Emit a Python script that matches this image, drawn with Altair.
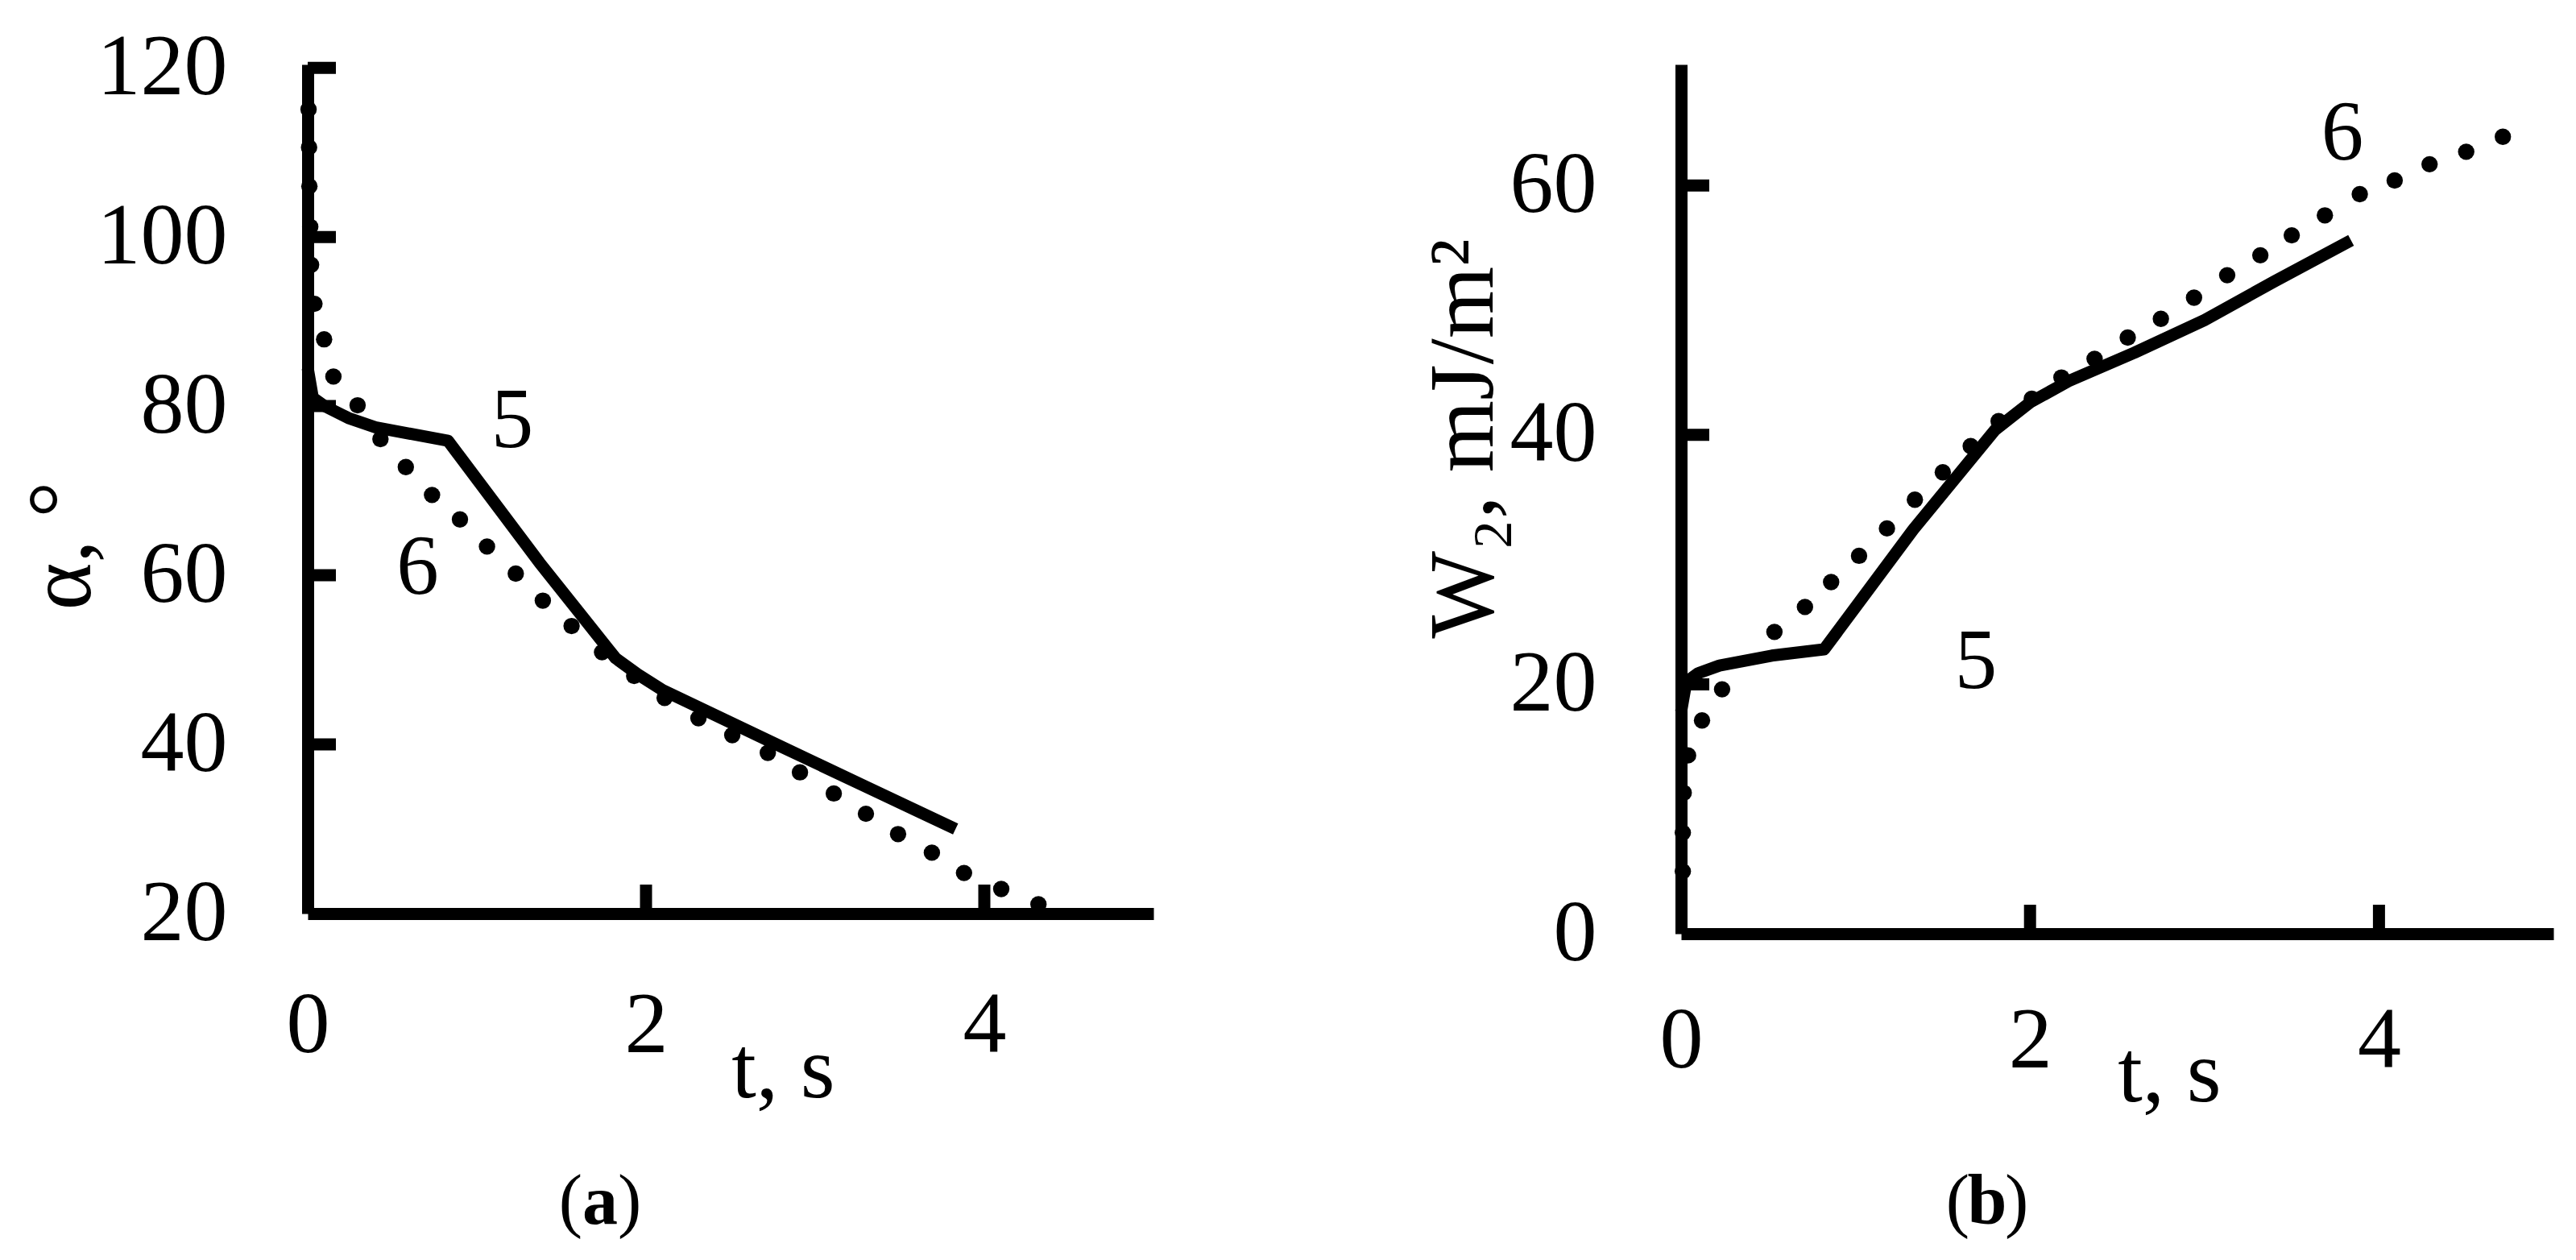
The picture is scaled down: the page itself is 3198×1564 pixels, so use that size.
import altair as alt
import pandas as pd

FONT = "Liberation Serif"

# ---------------- panel (a): alpha vs t ----------------
a5_t = [0.0, 0.03, 0.10, 0.24, 0.40, 0.83, 1.37, 1.82, 1.95, 2.10, 2.74, 3.30, 3.83]
a5_v = [84.5, 81.0, 80.0, 78.6, 77.5, 75.9, 61.5, 50.2, 48.3, 46.4, 40.3, 35.0, 30.0]

a6_t = [0.005, 0.008, 0.01, 0.015, 0.02, 0.04, 0.097, 0.152, 0.295, 0.43, 0.58, 0.735,
        0.90, 1.06, 1.23, 1.39, 1.56, 1.74, 1.93, 2.11, 2.31, 2.51, 2.72, 2.91, 3.11,
        3.30, 3.49, 3.69, 3.88, 4.10, 4.32]
a6_v = [115.1, 110.6, 106.0, 101.2, 96.7, 92.1, 87.9, 83.5, 80.1, 76.1, 72.8, 69.5,
        66.6, 63.4, 60.2, 57.0, 54.0, 50.9, 48.1, 45.5, 43.1, 41.1, 39.0, 36.7, 34.2,
        31.8, 29.4, 27.2, 24.8, 22.9, 21.1]

# ---------------- panel (b): W2 vs t ----------------
b5_t = [0.0, 0.03, 0.10, 0.22, 0.52, 0.82, 1.33, 1.80, 2.00, 2.22, 2.60, 3.00, 3.40, 3.84]
b5_v = [17.8, 20.2, 20.9, 21.5, 22.3, 22.8, 32.4, 40.4, 42.6, 44.3, 46.6, 49.2, 52.3, 55.6]

b6_t = [0.01, 0.01, 0.015, 0.04, 0.12, 0.235, 0.535, 0.71, 0.86, 1.02, 1.18, 1.34,
        1.50, 1.66, 1.82, 2.01, 2.18, 2.37, 2.56, 2.75, 2.94, 3.13, 3.32, 3.50, 3.69,
        3.89, 4.09, 4.29, 4.50, 4.71]
b6_v = [5.0, 8.1, 11.3, 14.3, 17.1, 19.6, 24.2, 26.2, 28.2, 30.3, 32.5, 34.8,
        37.0, 39.1, 41.1, 42.9, 44.6, 46.1, 47.8, 49.3, 51.0, 52.8, 54.4, 56.0, 57.6,
        59.3, 60.4, 61.7, 62.7, 63.9]

# ticks and labels
x_labels = [0, 2, 4]
x_ticks = [2, 4]
a_y_labels = [20, 40, 60, 80, 100, 120]
a_y_ticks = [40, 60, 80, 100, 120]
b_y_labels = [0, 20, 40, 60]
b_y_ticks = [20, 40, 60]

# curve annotations (label, t, value)
a_notes = [("5", 1.21, 75.2), ("6", 0.65, 57.8)]
b_notes = [("6", 3.79, 62.1), ("5", 1.69, 19.7)]


def panel(line_t, line_v, dot_t, dot_v, notes, y_labels, y_ticks, y_dom, W, H,
          y_title, ytsize, ytx, yty, xtx, xty, cap, capx, capy, ylabpad, xlabpad):
    xs = alt.Scale(domain=[0, 5], nice=False, zero=False)
    ys = alt.Scale(domain=y_dom, nice=False, zero=False)
    common = dict(domain=True, domainWidth=15, domainColor="black", ticks=False,
                  tickSize=0, grid=False, labelFont=FONT, labelFontSize=108,
                  labelColor="black", labelFlush=False, labelOverlap=False,
                  titleFont=FONT, titleFontWeight="normal",
                  titleColor="black", titleBaseline="alphabetic", titleAlign="center")
    xaxis = alt.Axis(title="t, s", values=x_labels, format="d", labelPadding=xlabpad,
                     titleX=xtx, titleY=xty, titleAngle=0, titleFontSize=110, **common)
    yaxis = alt.Axis(title=y_title, values=y_labels, format="d", labelPadding=ylabpad,
                     titleX=ytx, titleY=yty, titleAngle=270, titleFontSize=ytsize, **common)

    def X(f):
        return alt.X(f, type="quantitative", scale=xs, axis=xaxis)

    def Y(f):
        return alt.Y(f, type="quantitative", scale=ys, axis=yaxis)

    line = alt.Chart(pd.DataFrame({"t": line_t, "v": line_v})).mark_line(
        color="black", strokeWidth=15, strokeJoin="round"
    ).encode(x=X("t"), y=Y("v"))

    dots = alt.Chart(pd.DataFrame({"t": dot_t, "v": dot_v})).mark_circle(
        color="black", size=415, opacity=1
    ).encode(x=X("t"), y=Y("v"))

    ytk = alt.Chart(pd.DataFrame({"v": y_ticks})).mark_rule(
        color="black", strokeWidth=15
    ).encode(y=Y("v"), x=alt.value(0), x2=alt.value(35))

    xtk = alt.Chart(pd.DataFrame({"t": x_ticks})).mark_rule(
        color="black", strokeWidth=15
    ).encode(x=X("t"), y=alt.value(H), y2=alt.value(H - 36))

    txt = alt.Chart(pd.DataFrame(notes, columns=["label", "t", "v"])).mark_text(
        font=FONT, fontSize=105, color="black", baseline="alphabetic", align="center"
    ).encode(x=X("t"), y=Y("v"), text="label:N")

    cdf = pd.DataFrame({"c": [cap]})
    c1 = alt.Chart(cdf).mark_text(text="(", font=FONT, fontSize=88, color="black",
                                  baseline="alphabetic", align="right").encode(
        x=alt.value(capx - 22), y=alt.value(capy))
    c2 = alt.Chart(cdf).mark_text(font=FONT, fontSize=88, fontWeight="bold", color="black",
                                  baseline="alphabetic", align="center").encode(
        x=alt.value(capx), y=alt.value(capy), text="c:N")
    c3 = alt.Chart(cdf).mark_text(text=")", font=FONT, fontSize=88, color="black",
                                  baseline="alphabetic", align="left").encode(
        x=alt.value(capx + 22), y=alt.value(capy))

    return alt.layer(line, dots, ytk, xtk, txt, c1, c2, c3).properties(width=W, height=H)


left = panel(a5_t, a5_v, a6_t, a6_v, a_notes, a_y_labels, a_y_ticks, [20, 120.4],
             1050, 1054, "α, °", 112, -271, 597, 590, 227, "a", 363, 1439, 100, 86)
right = panel(b5_t, b5_v, b6_t, b6_v, b_notes, b_y_labels, b_y_ticks, [0, 69.7],
              1083, 1079, "W₂, mJ/m²", 115, -235, 464, 606, 207, "b", 380, 1439, 105, 80)

chart = alt.hconcat(left, right, spacing=655, bounds="flush").properties(
    padding={"left": 13, "top": 22, "right": 5, "bottom": 5},
    background="white",
).configure_view(stroke=None)

chart.save("out.html", embed_options={"renderer": "svg", "actions": False})
